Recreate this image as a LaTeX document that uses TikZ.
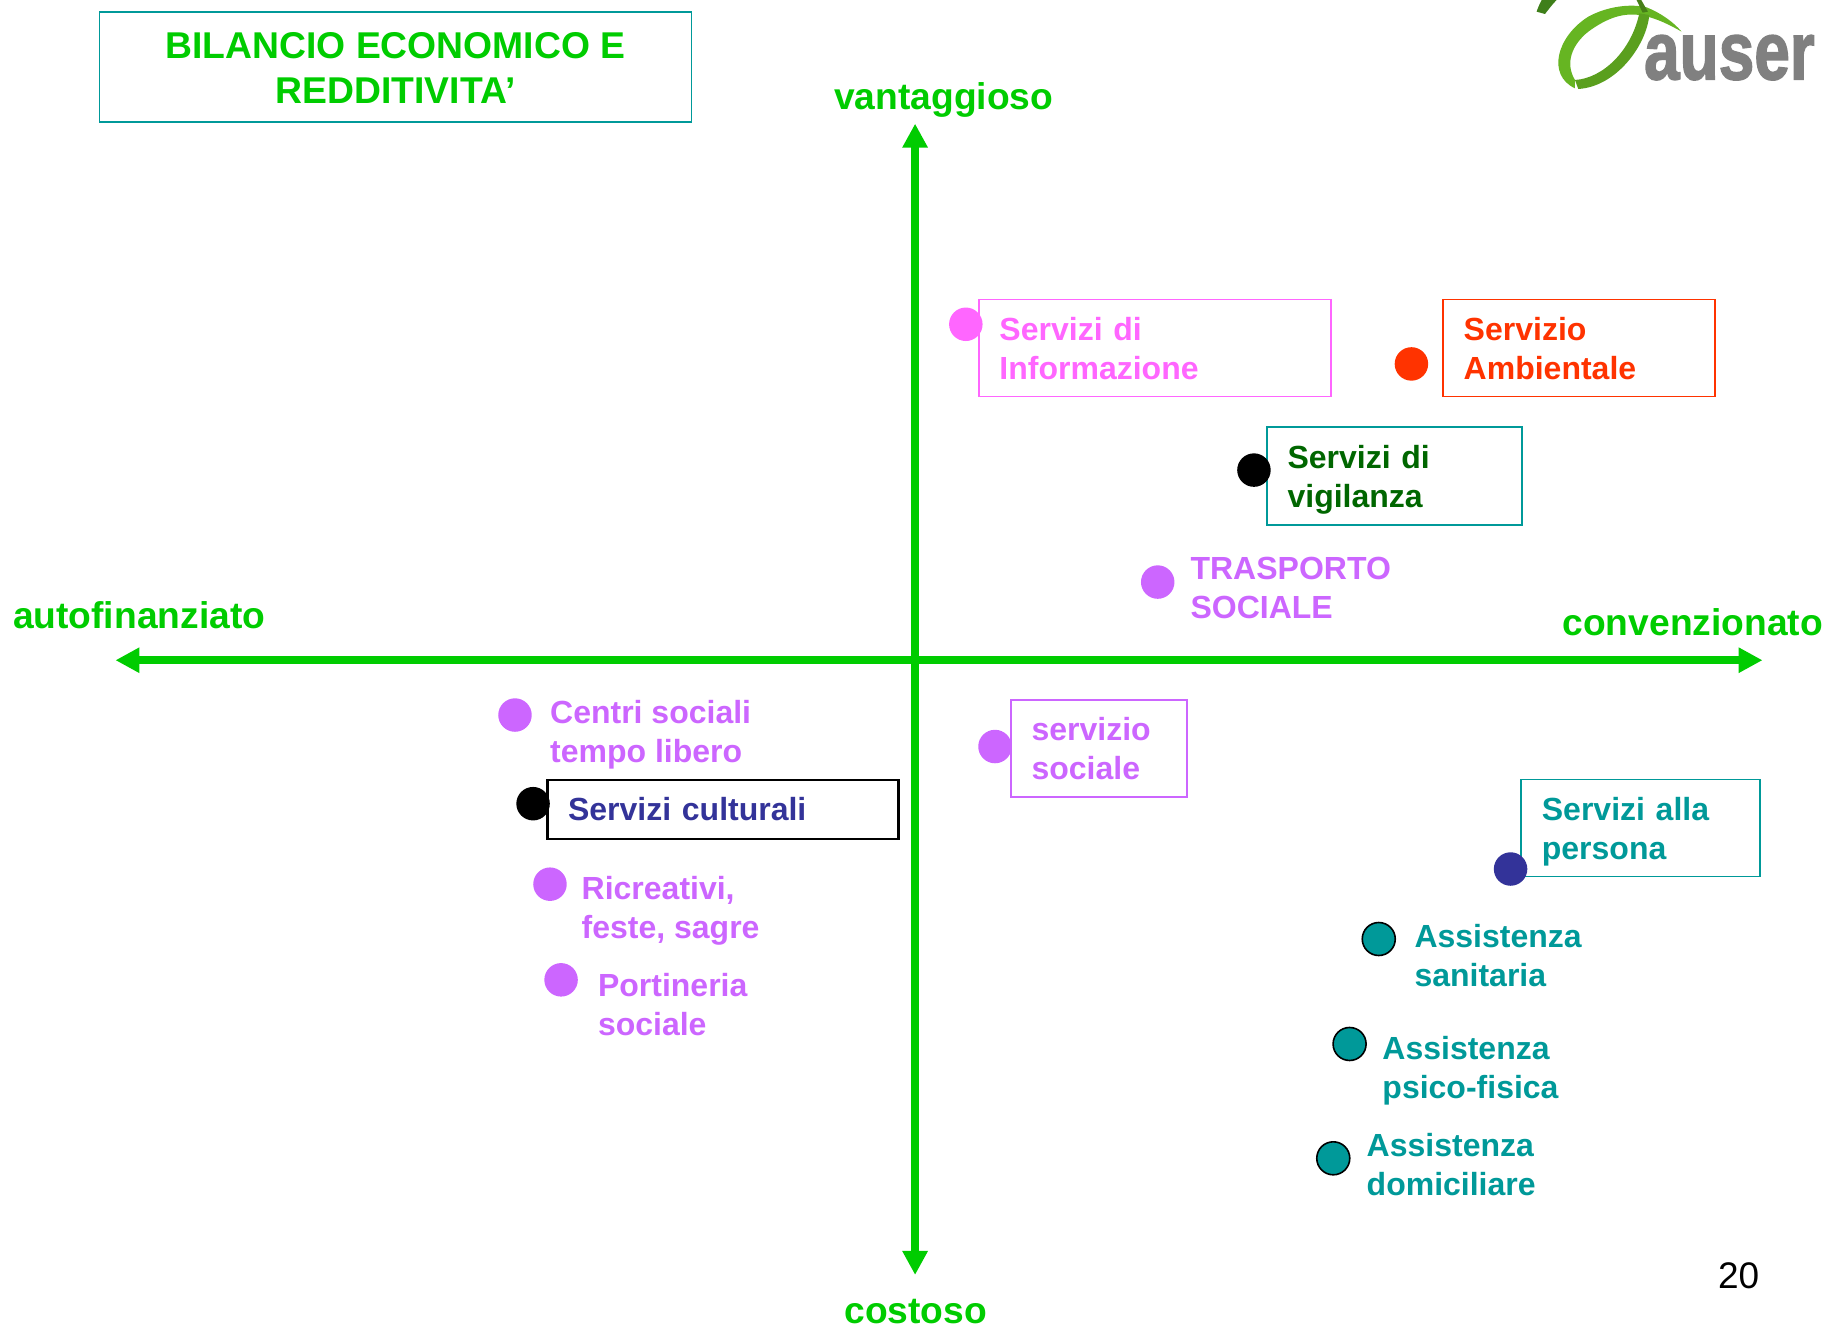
\documentclass[tikz,border=0pt]{standalone}
\usepackage{fontspec}
\setmainfont{Liberation Sans}
\usetikzlibrary{arrows.meta}
\definecolor{axisgreen}{HTML}{00CC00}
\definecolor{teal2}{HTML}{009999}
\definecolor{lilac}{HTML}{CC66FF}
\definecolor{pink2}{HTML}{FF66FF}
\definecolor{red2}{HTML}{FF3300}
\definecolor{navy2}{HTML}{333399}
\definecolor{dkgreen}{HTML}{006600}
\definecolor{logogreen}{HTML}{66B522}
\definecolor{logodark}{HTML}{3F7F1A}
\definecolor{logogray}{HTML}{808080}
\newcommand{\bxstrut}{\rule{0pt}{36pt}}
\tikzset{
  x=1.1665pt,y=-1.1665pt,
  lab/.style={font=\fontsize{32}{39}\selectfont\bfseries,align=left,anchor=west,inner sep=0pt},
  axlab/.style={font=\fontsize{37.2}{45}\selectfont\bfseries,inner sep=0pt,text=axisgreen},
  bx/.style={draw=#1,line width=1.8pt,anchor=north west,inner ysep=0pt,inner xsep=20.5pt,align=left,font=\fontsize{32}{39}\selectfont\bfseries},
  dot/.style={circle,inner sep=0pt,minimum size=33.5pt,fill=#1},
  dotb/.style={circle,inner sep=0pt,minimum size=33pt,fill=#1,draw=black,line width=1.6pt},
  axis/.style={draw=axisgreen,line width=8pt,{Triangle[length=24pt,width=24pt]}-{Triangle[length=24pt,width=24pt]}}
}
\begin{document}
\begin{tikzpicture}
\useasboundingbox (0,0) rectangle (1568,1139.3);
% axes
\coordinate (w) at (99,566); \coordinate (e) at (1511,566);
\coordinate (n) at (784.5,106); \coordinate (s) at (784.5,1093);
\draw[axis] (w) -- (e);
\draw[axis] (s) -- (n);
\node[axlab,anchor=west] (lw) at (11,531.5) {\strut autofinanziato};
\node[axlab,anchor=east] (le) at (1563,537.5) {\strut convenzionato};
\node[axlab] (ln) at (809,86.5) {\strut vantaggioso};
\node[axlab,anchor=base] (ls) at (785,1135) {costoso};
% title
\node[draw=teal2,line width=1.9pt,anchor=north west,minimum width=592pt,minimum height=110pt,inner sep=0pt,align=center,text=axisgreen,font=\fontsize{37.3}{45}\selectfont\bfseries] (title) at (84.5,9.5) {\rule{0pt}{41pt}BILANCIO ECONOMICO E\\REDDITIVITA’\strut};
% boxes
\node[bx=pink2,text=pink2,minimum height=97pt,text width=311pt] (info) at (838.5,256) {\bxstrut Servizi di\\Informazione\strut};
\node[bx=red2,text=red2,minimum height=97pt,text width=231pt] (amb) at (1236.5,256) {\bxstrut Servizio\\Ambientale\strut};
\node[bx=teal2,text=dkgreen,minimum height=98pt,text width=214pt] (vig) at (1085.5,365.5) {\bxstrut Servizi di\\vigilanza\strut};
\node[bx=lilac,text=lilac,minimum height=97pt,text width=135pt] (soc) at (866,599) {\bxstrut servizio\\sociale\strut};
\node[bx=black,line width=2.2pt,text=navy2,minimum height=59pt,text width=310pt] (cult) at (468.5,667.5) {\rule{0pt}{34pt}Servizi culturali\strut};
\node[bx=teal2,text=teal2,minimum height=97pt,text width=198pt] (pers) at (1303.5,667.5) {\bxstrut Servizi alla\\persona\strut};
% free labels
\node[lab,text=lilac] (tras) at (1020.5,507) {\strut TRASPORTO\\SOCIALE\strut};
\node[lab,text=lilac] (cent) at (471.5,630.5) {\strut Centri sociali\\tempo libero\strut};
\node[lab,text=lilac] (ric) at (498.5,781) {\strut Ricreativi,\\feste, sagre\strut};
\node[lab,text=lilac] (port) at (512.5,864) {\strut Portineria\\sociale\strut};
\node[lab,text=teal2] (san) at (1212.5,822) {\strut Assistenza\\sanitaria\strut};
\node[lab,text=teal2] (psi) at (1185,918) {\strut Assistenza\\psico-fisica\strut};
\node[lab,text=teal2] (dom) at (1171.5,1001.5) {\strut Assistenza\\domiciliare\strut};
\node[font=\fontsize{37}{44}\selectfont,inner sep=0pt,anchor=center] (num) at (1490.5,1094) {20};
% dots
\node[dot=pink2] (d1) at (828,278) {};
\node[dot=red2] (d2) at (1210,312) {};
\node[dot=black] (d3) at (1075,403) {};
\node[dot=lilac] (d4) at (992.5,499) {};
\node[dot=lilac] (d5) at (441.5,613) {};
\node[dot=black] (d6) at (457,689) {};
\node[dot=lilac] (d7) at (853,640) {};
\node[dot=lilac] (d8) at (471.5,758) {};
\node[dot=lilac] (d9) at (481,840) {};
\node[dot=navy2] (d10) at (1295,745) {};
\node[dotb=teal2] (d11) at (1182,805) {};
\node[dotb=teal2] (d12) at (1157,895) {};
\node[dotb=teal2] (d13) at (1143,993) {};
% logo (coordinates in 1/3 px, origin at x=1500 px)
\begin{scope}[shift={(1285.9,0)},x=0.3333pt,y=-0.3333pt]
  \fill[logodark] (125,0) -- (170,0) .. controls (155,15) and (145,30) .. (135,42) -- (110,35) .. controls (115,20) and (120,10) .. (125,0) -- cycle;
  \fill[logogreen] (225,265) .. controls (140,225) and (170,110) .. (265,50)
     .. controls (320,20) and (390,10) .. (440,22)
     .. controls (480,38) and (520,65) .. (545,95)
     .. controls (510,75) and (470,55) .. (430,47)
     .. controls (370,35) and (320,55) .. (265,95)
     .. controls (215,135) and (195,190) .. (225,240) -- cycle;
  \fill[logogreen!88!black] (225,240) .. controls (310,235) and (395,150) .. (418,40)
     -- (448,45) .. controls (440,135) and (350,260) .. (235,267) -- cycle;
  \fill[logogreen!70!black] (410,0) -- (424,0) -- (444,35) -- (428,38) -- cycle;
  \node[anchor=base west,inner sep=0pt,text=logogray,font=\fontsize{82}{82}\selectfont\bfseries\addfontfeature{FakeBold=2},xscale=0.78] (logo) at (432,238) {auser};
\end{scope}
\end{tikzpicture}
\end{document}
